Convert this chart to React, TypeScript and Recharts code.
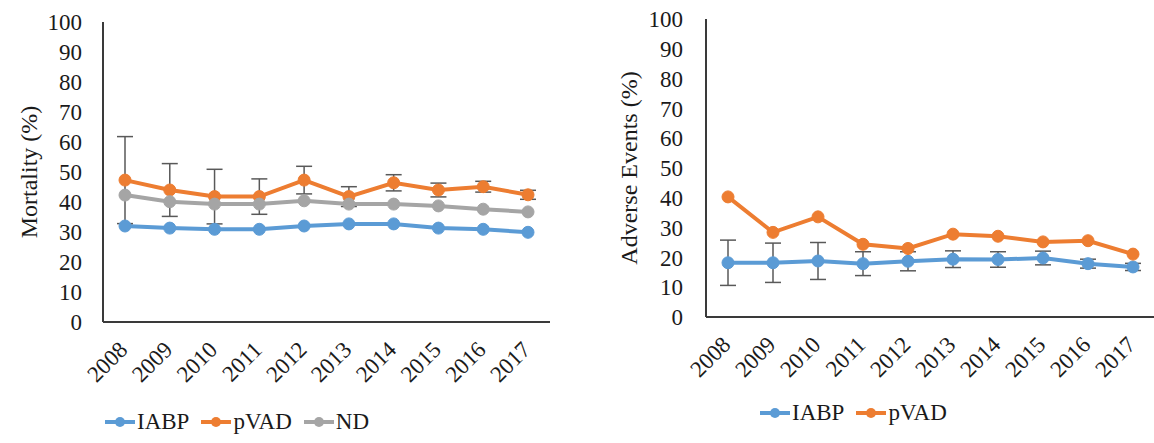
import { ErrorBar, Legend, Line, LineChart, XAxis, YAxis } from "recharts";

const YEARS = ["2008", "2009", "2010", "2011", "2012", "2013", "2014", "2015", "2016", "2017"];

// Mortality (%)
const MORT_IABP = [32.0, 31.3, 30.9, 30.9, 32.0, 32.7, 32.7, 31.3, 30.9, 29.9];
const MORT_PVAD = [47.3, 44.0, 41.8, 41.8, 47.3, 41.8, 46.4, 44.0, 45.1, 42.4];
const MORT_PVAD_ERR = [14.5, 8.8, 9.1, 5.9, 4.6, 3.3, 2.7, 2.3, 1.8, 1.5];
const MORT_ND = [42.3, 40.1, 39.3, 39.3, 40.4, 39.3, 39.3, 38.7, 37.6, 36.7];

// Adverse events (%)
const AE_IABP = [18.2, 18.2, 18.8, 17.9, 18.7, 19.4, 19.3, 19.8, 17.9, 16.8];
const AE_IABP_ERR = [7.6, 6.6, 6.2, 4.0, 3.2, 2.8, 2.6, 2.3, 1.5, 1.2];
const AE_PVAD = [40.3, 28.4, 33.6, 24.4, 23.0, 27.8, 27.1, 25.2, 25.6, 21.1];

const Y_TICKS = [0, 10, 20, 30, 40, 50, 60, 70, 80, 90, 100];

const BLUE = "#5B9BD5";
const ORANGE = "#ED7D31";
const GRAY = "#A5A5A5";
const ERR = "#595959";
const AXIS = "#3a3a3a";
const TEXT = "#1a1a1a";
const FONT = '"Liberation Serif", "Times New Roman", serif';

const mortData = YEARS.map((year, i) => ({
  year,
  iabp: MORT_IABP[i],
  pvad: MORT_PVAD[i],
  pvadErr: MORT_PVAD_ERR[i],
  nd: MORT_ND[i],
}));

const aeData = YEARS.map((year, i) => ({
  year,
  iabp: AE_IABP[i],
  iabpErr: AE_IABP_ERR[i],
  pvad: AE_PVAD[i],
}));

function YearTick({ x, y, payload }: any) {
  const tx = x + 4;
  const ty = y + 27;
  return (
    <text
      x={tx}
      y={ty}
      transform={`rotate(-45, ${tx}, ${ty})`}
      textAnchor="end"
      fontSize={23}
      fontFamily={FONT}
      fill={TEXT}
    >
      {payload.value}
    </text>
  );
}

interface LegendItem {
  label: string;
  color: string;
}

function LegendRow({ items }: { items: LegendItem[] }) {
  return (
    <div style={{ display: "flex", alignItems: "center", fontFamily: FONT, fontSize: 23, color: TEXT }}>
      {items.map((it) => (
        <div key={it.label} style={{ display: "flex", alignItems: "center", marginRight: 12 }}>
          <svg width={30} height={14} style={{ marginRight: 2 }}>
            <line x1={0} y1={7} x2={30} y2={7} stroke={it.color} strokeWidth={4} />
            <circle cx={15} cy={7} r={5} fill={it.color} />
          </svg>
          <span style={{ lineHeight: "26px" }}>{it.label}</span>
        </div>
      ))}
    </div>
  );
}

const dotStyle = (c: string) => ({ r: 6, fill: c, stroke: c, strokeWidth: 1 });

export default function App() {
  return (
    <div
      style={{
        position: "absolute",
        left: 0,
        top: 0,
        width: 1154,
        height: 443,
        overflow: "hidden",
        background: "#fff",
      }}
    >
      <div style={{ position: "absolute", left: 0, top: 0 }}>
        <LineChart width={560} height={443} data={mortData} margin={{ top: 22, right: 10, left: 0, bottom: 5 }}>
          <XAxis
            dataKey="year"
            interval={0}
            tickLine={false}
            tickSize={0}
            axisLine={{ stroke: AXIS, strokeWidth: 2 }}
            tick={<YearTick />}
            height={80}
            padding={{ left: 22, right: 22 }}
          />
          <YAxis
            domain={[0, 100]}
            ticks={Y_TICKS}
            interval={0}
            width={103}
            tickLine={false}
            tickSize={0}
            tickMargin={21}
            axisLine={{ stroke: AXIS, strokeWidth: 2 }}
            tick={{ fontSize: 23, fontFamily: FONT, fill: TEXT }}
            label={{
              value: "Mortality (%)",
              angle: -90,
              position: "insideLeft",
              offset: 28,
              style: { textAnchor: "middle", fontSize: 24, fontFamily: FONT, fill: TEXT },
            }}
          />
          <Legend
            verticalAlign="bottom"
            height={36}
            wrapperStyle={{ left: 105, top: 409, bottom: "auto", width: "auto" }}
            content={() => (
              <LegendRow
                items={[
                  { label: "IABP", color: BLUE },
                  { label: "pVAD", color: ORANGE },
                  { label: "ND", color: GRAY },
                ]}
              />
            )}
          />
          <Line
            dataKey="iabp"
            stroke={BLUE}
            strokeWidth={4}
            dot={dotStyle(BLUE)}
            activeDot={false}
            isAnimationActive={false}
          />
          <Line
            dataKey="pvad"
            stroke={ORANGE}
            strokeWidth={4}
            dot={dotStyle(ORANGE)}
            activeDot={false}
            isAnimationActive={false}
          >
            <ErrorBar dataKey="pvadErr" width={8} stroke={ERR} strokeWidth={1.5} direction="y" />
          </Line>
          <Line
            dataKey="nd"
            stroke={GRAY}
            strokeWidth={4}
            dot={dotStyle(GRAY)}
            activeDot={false}
            isAnimationActive={false}
          />
        </LineChart>
      </div>

      <div style={{ position: "absolute", left: 580, top: 0 }}>
        <LineChart width={574} height={443} data={aeData} margin={{ top: 19, right: 0, left: 0, bottom: 5 }}>
          <XAxis
            dataKey="year"
            interval={0}
            tickLine={false}
            tickSize={0}
            axisLine={{ stroke: AXIS, strokeWidth: 2 }}
            tick={<YearTick />}
            height={85}
            padding={{ left: 22, right: 21 }}
          />
          <YAxis
            domain={[0, 100]}
            ticks={Y_TICKS}
            interval={0}
            width={126}
            tickLine={false}
            tickSize={0}
            tickMargin={23}
            axisLine={{ stroke: AXIS, strokeWidth: 2 }}
            tick={{ fontSize: 23, fontFamily: FONT, fill: TEXT }}
            label={{
              value: "Adverse Events (%)",
              angle: -90,
              position: "insideLeft",
              offset: 48,
              style: { textAnchor: "middle", fontSize: 24, fontFamily: FONT, fill: TEXT },
            }}
          />
          <Legend
            verticalAlign="bottom"
            height={36}
            wrapperStyle={{ left: 180, top: 400, bottom: "auto", width: "auto" }}
            content={() => (
              <LegendRow
                items={[
                  { label: "IABP", color: BLUE },
                  { label: "pVAD", color: ORANGE },
                ]}
              />
            )}
          />
          <Line
            dataKey="iabp"
            stroke={BLUE}
            strokeWidth={4}
            dot={dotStyle(BLUE)}
            activeDot={false}
            isAnimationActive={false}
          >
            <ErrorBar dataKey="iabpErr" width={8} stroke={ERR} strokeWidth={1.5} direction="y" />
          </Line>
          <Line
            dataKey="pvad"
            stroke={ORANGE}
            strokeWidth={4}
            dot={dotStyle(ORANGE)}
            activeDot={false}
            isAnimationActive={false}
          />
        </LineChart>
      </div>
    </div>
  );
}
